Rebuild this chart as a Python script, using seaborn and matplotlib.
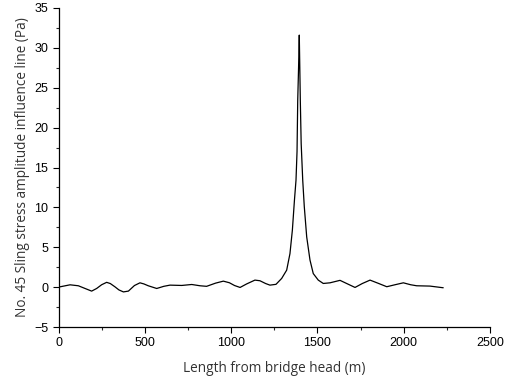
import numpy as np
import pandas as pd
import matplotlib
matplotlib.use("Agg")
import matplotlib.pyplot as plt
from matplotlib.ticker import MultipleLocator
import seaborn as sns

# values
length_m = [0, 67, 115, 154, 192, 221, 250, 279, 300, 327, 350, 376, 405, 440,
            472, 495, 520, 569, 610, 646, 714, 772, 820, 858, 910, 955, 990,
            1020, 1052, 1090, 1138, 1167, 1200, 1225, 1260, 1293, 1322, 1341,
            1355, 1367, 1376, 1382, 1386, 1391, 1395, 1398, 1401, 1406, 1415,
            1424, 1438, 1457, 1476, 1505, 1534, 1573, 1631, 1670, 1718, 1760,
            1805, 1850, 1902, 1950, 1998, 2040, 2075, 2152, 2229]
stress_pa = [0.0, 0.29, 0.17, -0.17, -0.5, -0.17, 0.3, 0.6, 0.45, 0.04, -0.35,
             -0.6, -0.5, 0.2, 0.54, 0.4, 0.17, -0.17, 0.1, 0.25, 0.21, 0.33,
             0.17, 0.1, 0.5, 0.75, 0.55, 0.2, -0.04, 0.4, 0.88, 0.8, 0.45, 0.25,
             0.35, 1.09, 2.13, 4.2, 7.15, 10.9, 13.4, 17.0, 23.4, 27.6, 31.6,
             27.6, 23.4, 18.0, 13.4, 10.1, 6.3, 3.4, 1.7, 0.88, 0.46, 0.54, 0.85,
             0.45, -0.04, 0.45, 0.88, 0.5, 0.05, 0.3, 0.54, 0.3, 0.17, 0.13, -0.08]

df = pd.DataFrame({"x": length_m, "y": stress_pa})

sns.set_style("ticks")
plt.rcParams["font.family"] = ["Liberation Sans", "DejaVu Sans"]

fig, ax = plt.subplots(figsize=(5.05, 3.8), dpi=100)
fig.subplots_adjust(left=58.5 / 505, right=490 / 505, top=1 - 8 / 380, bottom=1 - 327 / 380)

sns.lineplot(data=df, x="x", y="y", ax=ax, color="black", linewidth=0.9, sort=False)

ax.set_xlim(0, 2500)
ax.set_ylim(-5, 35)
ax.xaxis.set_major_locator(MultipleLocator(500))
ax.xaxis.set_minor_locator(MultipleLocator(250))
ax.yaxis.set_major_locator(MultipleLocator(5))
ax.yaxis.set_minor_locator(MultipleLocator(2.5))
ax.tick_params(which="major", length=4, width=0.8, labelsize=9, colors="black")
ax.tick_params(which="minor", length=2.5, width=0.8)
sns.despine(ax=ax)
for s in ["left", "bottom"]:
    ax.spines[s].set_linewidth(0.9)
    ax.spines[s].set_color("black")

ax.set_xlabel("Length from bridge head (m)", fontsize=9.8, family=["Open Sans", "DejaVu Sans"], color="#333333", labelpad=8)
ax.set_ylabel("No. 45 Sling stress amplitude influence line (Pa)", fontsize=9.8, family=["Open Sans", "DejaVu Sans"], color="#333333", labelpad=3)

fig.savefig("out.png", dpi=100)
